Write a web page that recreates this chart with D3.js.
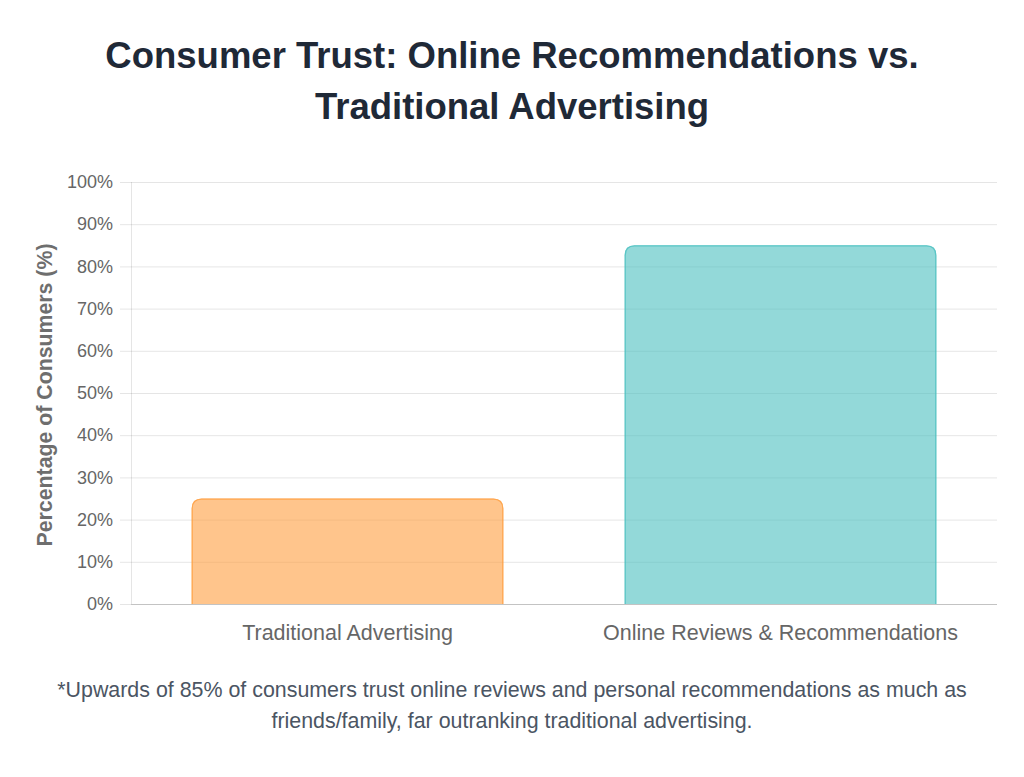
<!DOCTYPE html>
<html>
<head>
<meta charset="utf-8">
<script src="https://cdn.jsdelivr.net/npm/d3@7/dist/d3.min.js"></script>
<style>
  html, body { margin: 0; padding: 0; background: #fff; }
  svg { display: block; }
</style>
</head>
<body>
<svg id="chart" width="1024" height="777"></svg>
<script>
const categories = ["Traditional Advertising", "Online Reviews & Recommendations"];
const values = [25, 85];
const fillColors = ["rgba(255,159,64,0.6)", "rgba(75,192,192,0.6)"];
const borderColors = ["rgb(255,159,64)", "rgb(75,192,192)"];
const yTicks = [0, 10, 20, 30, 40, 50, 60, 70, 80, 90, 100];
const titleLines = ["Consumer Trust: Online Recommendations vs.", "Traditional Advertising"];
const yAxisTitle = "Percentage of Consumers (%)";
const footnoteLines = [
  "*Upwards of 85% of consumers trust online reviews and personal recommendations as much as",
  "friends/family, far outranking traditional advertising."
];

(function () {
const font = "'Liberation Sans', Arial, Helvetica, sans-serif";
const svg = d3.select("#chart");
const pLeft = 131, pRight = 997, pTop = 182, pBottom = 604;

const x = d3.scaleBand().domain(categories).range([pLeft, pRight])
  .paddingInner(0.28).paddingOuter(0.14);
const y = d3.scaleLinear().domain([0, 100]).range([pBottom, pTop]);

// Title
svg.append("g").selectAll("text").data(titleLines).join("text")
  .attr("x", 512).attr("y", (d, i) => 68 + i * 51)
  .attr("text-anchor", "middle")
  .attr("font-family", font).attr("font-weight", "bold").attr("font-size", 36.5)
  .attr("fill", "#1f2937").text(d => d);

// Y gridlines + axis
const yAxis = d3.axisLeft(y).tickValues(yTicks).tickFormat(d => d + "%")
  .tickSize(-(pRight - pLeft)).tickPadding(6);
const gy = svg.append("g").attr("transform", `translate(${pLeft},0)`).call(yAxis);
gy.select(".domain").remove();
gy.selectAll(".tick line").attr("stroke", "rgba(0,0,0,0.1)").attr("x1", -11);
gy.selectAll(".tick text").attr("font-family", font).attr("font-size", 18)
  .attr("fill", "#666").attr("x", -18);
// y axis border
svg.append("line").attr("x1", pLeft + 0.5).attr("x2", pLeft + 0.5)
  .attr("y1", pTop).attr("y2", pBottom).attr("stroke", "rgba(0,0,0,0.1)");

// Bars
const r = 10;
function fillPath(x0, w, yTop, yBot) {
  const x1 = x0 + w;
  return `M${x0},${yBot} L${x0},${yTop + r} Q${x0},${yTop} ${x0 + r},${yTop} L${x1 - r},${yTop} Q${x1},${yTop} ${x1},${yTop + r} L${x1},${yBot} Z`;
}
function strokePath(cx0, w, yTop, yBot, bw) {
  const x0 = cx0 + bw / 2, x1 = cx0 + w - bw / 2, t = yTop + bw / 2, rr = r - bw / 2;
  return `M${x0},${yBot} L${x0},${t + rr} Q${x0},${t} ${x0 + rr},${t} L${x1 - rr},${t} Q${x1},${t} ${x1},${t + rr} L${x1},${yBot}`;
}
const bars = svg.append("g").selectAll("g").data(categories).join("g");
bars.append("path")
  .attr("d", (d, i) => fillPath(x(d), x.bandwidth(), y(values[i]), y(0)))
  .attr("fill", (d, i) => fillColors[i]);
bars.append("path")
  .attr("d", (d, i) => strokePath(x(d), x.bandwidth(), y(values[i]), y(0), 1.2))
  .attr("fill", "none").attr("stroke", (d, i) => borderColors[i])
  .attr("stroke-opacity", 0.8).attr("stroke-width", 1.2);

// X axis line
svg.append("line").attr("x1", pLeft).attr("x2", pRight)
  .attr("y1", pBottom + 0.5).attr("y2", pBottom + 0.5).attr("stroke", "rgba(0,0,0,0.15)");

// X labels
const xAxis = d3.axisBottom(x).tickSize(0).tickPadding(0);
const gx = svg.append("g").attr("transform", `translate(0,${pBottom})`).call(xAxis);
gx.select(".domain").remove();
gx.selectAll(".tick text").attr("font-family", font).attr("font-size", 21.5)
  .attr("fill", "#666").attr("dy", null).attr("y", 36);

// Y axis title
svg.append("text")
  .attr("transform", `translate(52,395) rotate(-90)`)
  .attr("text-anchor", "middle")
  .attr("font-family", font).attr("font-weight", "bold").attr("font-size", 21.3)
  .attr("fill", "#6e6e6e").text(yAxisTitle);

// Footnote
svg.append("g").selectAll("text").data(footnoteLines).join("text")
  .attr("x", 512).attr("y", (d, i) => 697 + i * 31)
  .attr("text-anchor", "middle")
  .attr("font-family", font).attr("font-size", 21.4)
  .attr("fill", "#4b5563").text(d => d);
})();
</script>
</body>
</html>
